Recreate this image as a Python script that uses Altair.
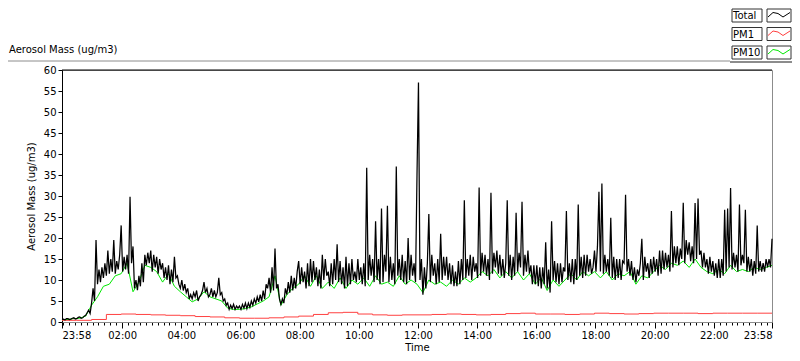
import altair as alt
import pandas as pd

# ---------------- data ----------------
# minutes after 23:58 on a regular grid
TOTAL_STEP = 3
TOTAL = [
    0.6, 0.7, 0.5, 0.8, 0.8, 0.6, 0.7, 0.9, 1.0, 0.7, 0.8, 1.1, 1.2, 0.9, 1.0, 1.4, 1.6, 2.2, 2.8, 2.0,
    4.5, 8.0, 5.0, 19.5, 9.0, 12.5, 9.5, 13.0, 10.5, 14.0, 11.0, 17.0, 11.5, 15.0, 12.0, 19.5, 11.5, 14.5, 12.5, 16.0,
    23.0, 12.0, 15.5, 12.5, 16.0, 11.5, 29.8, 14.0, 18.0, 8.0, 10.0, 7.6, 11.0, 8.5, 14.0, 9.5, 16.0, 13.5, 16.5, 14.0,
    17.0, 12.0, 16.0, 13.0, 15.5, 11.5, 15.0, 12.5, 14.0, 10.5, 13.0, 10.0, 13.5, 9.0, 12.5, 9.5, 15.5, 10.5, 11.0, 9.0,
    8.0, 10.0, 7.5, 9.0, 7.0, 8.0, 5.5, 6.5, 5.5, 7.0, 6.0, 7.5, 5.0, 6.0, 6.5, 7.5, 9.5, 7.0, 8.0, 6.0,
    6.5, 8.0, 6.0, 7.5, 6.0, 7.0, 10.5, 6.5, 7.0, 5.0, 5.5, 4.0, 4.5, 3.0, 4.0, 3.2, 4.2, 3.0, 3.8, 3.3,
    3.8, 3.0, 4.2, 3.3, 4.5, 3.2, 4.5, 3.5, 5.0, 4.0, 5.5, 4.5, 6.0, 4.8, 6.5, 5.0, 7.5, 5.5, 9.0, 8.0,
    10.5, 7.0, 13.0, 7.5, 17.5, 8.0, 9.0, 5.5, 4.2, 5.5, 4.5, 8.0, 6.5, 9.5, 7.0, 11.0, 7.5, 10.5, 8.0, 12.0,
    14.5, 9.0, 13.0, 9.5, 12.0, 8.0, 14.0, 8.5, 15.0, 9.5, 14.5, 10.0, 13.0, 8.5, 12.5, 8.0, 16.0, 10.0, 15.0, 11.0,
    12.0, 8.5, 14.0, 9.0, 15.0, 10.0, 18.5, 9.5, 14.5, 9.0, 13.0, 8.0, 15.5, 8.5, 14.0, 9.0, 15.0, 10.0, 12.0, 9.5,
    15.0, 10.0, 13.0, 9.0, 14.0, 8.5, 36.7, 10.0, 16.0, 11.0, 15.0, 9.5, 24.0, 10.0, 15.0, 9.0, 27.0, 9.5, 16.0, 12.0,
    27.7, 9.5, 15.5, 10.0, 14.0, 9.0, 37.0, 11.0, 15.0, 10.0, 16.0, 9.5, 14.5, 9.0, 20.0, 10.0, 16.0, 11.0, 14.0, 9.5,
    35.0, 57.0, 10.0, 15.0, 6.5, 13.0, 8.0, 14.0, 25.7, 9.5, 16.0, 11.0, 14.0, 9.0, 15.0, 9.5, 21.0, 10.0, 15.5, 11.0,
    15.5, 10.0, 14.0, 9.0, 13.5, 8.5, 12.0, 8.5, 14.5, 9.0, 15.0, 10.0, 29.0, 10.5, 15.0, 11.0, 16.0, 10.0, 15.5, 12.0,
    14.0, 10.5, 32.0, 11.0, 16.5, 12.0, 16.0, 11.0, 15.0, 10.0, 30.8, 11.5, 16.5, 13.0, 17.0, 11.5, 16.0, 11.0, 15.0, 10.5,
    14.0, 29.0, 11.0, 16.0, 10.0, 15.5, 11.0, 26.0, 12.0, 16.5, 13.0, 28.6, 11.0, 16.0, 12.0, 17.0, 11.5, 13.5, 9.0, 13.5,
    9.0, 13.5, 8.5, 13.0, 8.0, 13.0, 9.0, 19.0, 8.0, 12.5, 7.0, 24.0, 10.0, 14.5, 9.5, 14.0, 9.0, 14.0, 9.5, 13.0,
    12.0, 26.4, 10.0, 14.0, 9.5, 15.0, 9.0, 15.0, 10.0, 28.0, 11.0, 15.5, 10.5, 16.0, 11.0, 16.0, 12.0, 15.0, 11.5, 13.0,
    17.0, 12.0, 18.0, 31.0, 12.0, 33.0, 11.5, 16.0, 12.0, 15.0, 11.0, 24.8, 10.5, 15.5, 10.0, 15.0, 10.5, 15.0, 10.0, 14.5,
    14.0, 30.3, 12.0, 15.0, 11.0, 14.5, 10.0, 13.0, 9.5, 12.5, 11.0, 14.0, 19.8, 10.0, 15.5, 12.0, 14.0, 10.5, 15.0, 11.5,
    15.5, 12.0, 15.0, 11.0, 17.0, 11.5, 17.0, 12.5, 16.5, 13.0, 16.0, 12.0, 26.4, 13.0, 18.0, 14.0, 18.0, 13.5, 17.5, 15.0,
    28.4, 14.0, 19.5, 16.0, 19.0, 14.5, 18.0, 14.0, 28.3, 15.0, 29.4, 16.0, 17.0, 13.0, 16.5, 13.0, 15.0, 11.5, 15.5, 12.0,
    14.5, 11.0, 14.0, 10.5, 15.0, 10.5, 15.0, 11.0, 26.7, 12.0, 27.0, 13.0, 31.9, 12.5, 16.5, 13.0, 16.0, 12.0, 28.0, 13.5,
    16.0, 14.0, 26.7, 12.0, 15.5, 12.0, 15.0, 11.0, 14.5, 11.5, 23.0, 12.0, 14.5, 12.0, 14.0, 12.0, 15.0, 13.0, 15.0, 13.0,
    19.8,
]

PM10_STEP = 12
PM10 = [
    0.5, 0.6, 0.8, 0.9, 1.4,
    4.0, 6.0, 8.5, 9.0, 11.0,
    11.5, 14.0, 7.2, 9.5, 13.5,
    13.0, 12.0, 9.5, 11.5, 8.5,
    7.2, 6.0, 4.8, 5.5, 7.2,
    6.0, 5.5, 5.0, 3.3, 3.0,
    3.0, 3.2, 3.6, 4.3, 5.0,
    6.0, 11.0, 4.0, 6.5, 8.0,
    9.0, 11.0, 8.5, 11.0, 8.0,
    9.5, 8.0, 10.5, 8.0, 10.0,
    9.0, 10.5, 8.5, 11.0, 9.0,
    9.5, 8.5, 11.0, 9.0, 10.0,
    9.0, 7.0, 10.0, 9.0, 9.5,
    8.5, 10.0, 9.0, 10.5, 9.5,
    10.5, 12.0, 11.0, 12.5, 10.5,
    12.0, 10.5, 12.0, 10.0, 11.5,
    9.0, 10.5, 7.5, 10.0, 8.5,
    10.0, 11.5, 10.0, 12.0, 11.0,
    12.0, 10.5, 12.0, 10.0, 11.5,
    11.0, 12.0, 9.0, 11.0, 10.5,
    12.0, 13.5, 12.5, 14.0, 13.5,
    14.5, 13.0, 15.0, 13.0, 12.0,
    11.5, 12.5, 11.5, 13.5, 12.0,
    12.5, 12.0, 13.0, 12.5, 13.0,
    13.5,
]

PM1_STEP = 30
PM1 = [
    0.4, 0.4, 0.6, 1.8, 1.9, 1.8, 1.7, 1.6, 1.5, 1.3,
    1.2, 1.0, 0.9, 0.9, 1.0, 1.2, 1.4, 1.8, 2.2, 2.3,
    1.9, 1.7, 1.6, 1.7, 1.7, 1.8, 1.9, 1.8, 1.7, 1.8,
    2.0, 2.1, 1.9, 1.9, 1.8, 1.9, 2.1, 2.0, 1.9, 2.0,
    2.1, 2.1, 2.1, 2.0, 2.1, 2.1, 2.1, 2.1, 2.1,
]

SERIES = ["Total", "PM1", "PM10"]
COLORS = ["#000000", "#ff4040", "#00e800"]

MAJOR_TICKS = [0, 122, 242, 362, 482, 602, 722, 842, 962, 1082, 1202, 1322, 1440]
MAJOR_LABELS = ["23:58", "02:00", "04:00", "06:00", "08:00", "10:00", "12:00",
                "14:00", "16:00", "18:00", "20:00", "22:00", "23:58"]
MINOR_TICKS = [2 + 12 * j for j in range(120)]
Y_TICKS = list(range(0, 61, 5))

TITLE = "Aerosol Mass (ug/m3)"
FONT = "DejaVu Sans"

W, H = 710, 252

# ---------------- tables ----------------
df_total = pd.DataFrame({"t": [i * TOTAL_STEP for i in range(len(TOTAL))], "v": TOTAL})
df_pm10 = pd.DataFrame({"t": [i * PM10_STEP for i in range(len(PM10))], "v": PM10})
df_pm1 = pd.DataFrame({"t": [i * PM1_STEP for i in range(len(PM1))], "v": PM1})

all_ticks = sorted(set(MINOR_TICKS + MAJOR_TICKS))
major_arr = "[" + ",".join(str(v) for v in MAJOR_TICKS) + "]"
lab_arr = "[" + ",".join("'" + s + "'" for s in MAJOR_LABELS) + "]"
is_major = f"indexof({major_arr}, datum.value) >= 0"
label_expr = f"{is_major} ? {lab_arr}[indexof({major_arr}, datum.value)] : ''"

x_enc = alt.X(
    "t:Q",
    scale=alt.Scale(domain=[0, 1440], nice=False, zero=False),
    axis=alt.Axis(
        values=all_ticks, labelExpr=label_expr, labelOverlap=False,
        tickSize={"condition": {"test": is_major, "value": 6}, "value": 3},
        tickColor="black", tickWidth=1, domainColor="#8c8c8c", domainWidth=1,
        labelFont=FONT, labelFontSize=10, labelColor="black", labelPadding=2,
        title="Time", titleFont=FONT, titleFontSize=10, titleFontWeight="normal",
        titleColor="black", titlePadding=2, grid=False,
    ),
)
y_enc = alt.Y(
    "v:Q",
    scale=alt.Scale(domain=[0, 60], nice=False),
    axis=alt.Axis(
        values=Y_TICKS, tickSize=4, tickColor="black", domainColor="black",
        labelFont=FONT, labelFontSize=10, labelColor="black", labelPadding=2,
        title=TITLE, titleFont=FONT, titleFontSize=10, titleFontWeight="normal",
        titleColor="black", titlePadding=7, grid=False,
    ),
)

pm10_line = alt.Chart(df_pm10).mark_line(color=COLORS[2], strokeWidth=1).encode(x=x_enc, y=y_enc)
pm1_line = alt.Chart(df_pm1).mark_line(color=COLORS[1], strokeWidth=1, interpolate="step-after").encode(x=x_enc, y=y_enc)
total_line = alt.Chart(df_total).mark_line(color=COLORS[0], strokeWidth=1.25).encode(x=x_enc, y=y_enc)

one = pd.DataFrame({"a": [0]})

# frame pieces
top_rule = alt.Chart(one).mark_rule(color="black", strokeWidth=1).encode(
    x=alt.value(0), x2=alt.value(W), y=alt.value(0))
outer_rule = alt.Chart(one).mark_rule(color="#8c8c8c", strokeWidth=1).encode(
    x=alt.value(-54), x2=alt.value(668), y=alt.value(-9))
outer_rule2 = alt.Chart(one).mark_rule(color="#8c8c8c", strokeWidth=2).encode(
    x=alt.value(668), x2=alt.value(730), y=alt.value(-8))
title_text = alt.Chart(one).mark_text(
    align="left", baseline="middle", font=FONT, fontSize=10, color="black").encode(
    x=alt.value(-53), y=alt.value(-20), text=alt.value(TITLE))

layers = [pm10_line, pm1_line, total_line, top_rule, outer_rule, outer_rule2, title_text]

# legend (LabVIEW-style boxes)
row_tops = [-61, -42.5, -24]
box_h = 13
for name, color, top in zip(SERIES, COLORS, row_tops):
    layers.append(alt.Chart(one).mark_rect(fill="white", stroke="#333333", strokeWidth=1).encode(
        x=alt.value(670), x2=alt.value(700), y=alt.value(top), y2=alt.value(top + box_h)))
    layers.append(alt.Chart(one).mark_rect(fill="white", stroke="#333333", strokeWidth=1).encode(
        x=alt.value(705), x2=alt.value(729), y=alt.value(top), y2=alt.value(top + box_h)))
    layers.append(alt.Chart(one).mark_text(
        align="left", baseline="middle", font=FONT, fontSize=10, color="black").encode(
        x=alt.value(671), y=alt.value(top + box_h / 2 + 0.5), text=alt.value(name)))
    pts = [(1, 8), (6, 3.5), (11, 4.5), (16, 8), (23, 3.5)]
    for (xa, ya), (xb, yb) in zip(pts[:-1], pts[1:]):
        layers.append(alt.Chart(one).mark_rule(color=color, strokeWidth=1).encode(
            x=alt.value(705 + xa), y=alt.value(top + ya),
            x2=alt.value(705 + xb), y2=alt.value(top + yb)))

chart = alt.layer(*layers).properties(
    width=W, height=H,
    autosize=alt.AutoSizeParams(type="none"),
    padding={"left": 54, "top": 62, "right": 20, "bottom": 29},
    background="white",
).configure_view(stroke="#8c8c8c", strokeWidth=1)

chart.save("out.html", embed_options={"renderer": "svg", "actions": False})
